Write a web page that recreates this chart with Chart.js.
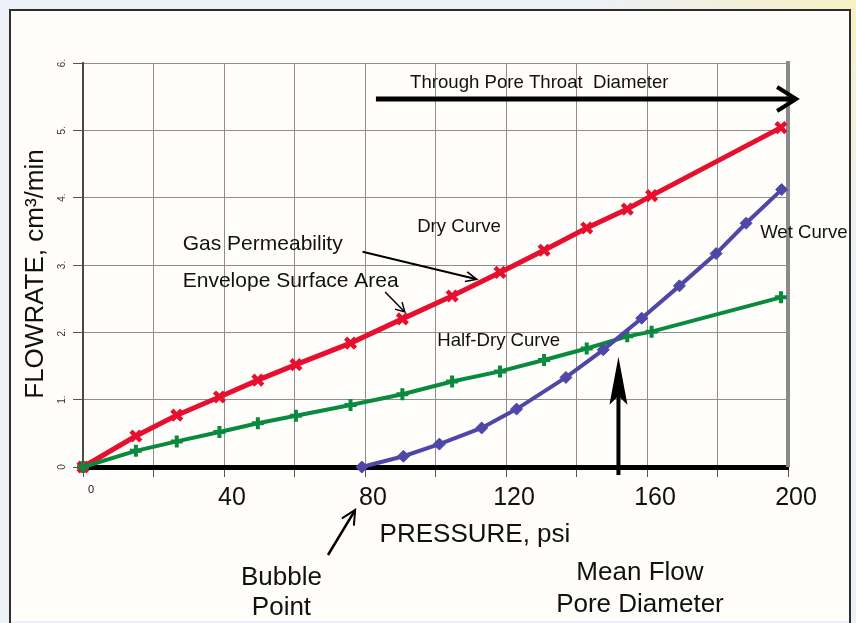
<!DOCTYPE html>
<html>
<head>
<meta charset="utf-8">
<script src="https://cdn.jsdelivr.net/npm/chart.js@4.4.1/dist/chart.umd.min.js"></script>
<style>
  html, body { margin: 0; padding: 0; background: #edf0f7; }
  #wrap { position: relative; width: 856px; height: 623px; }
</style>
</head>
<body>
<div id="wrap"><canvas id="chart"></canvas></div>
<script>
// data
const pressure = [0, 15, 26.6, 38.7, 49.6, 60.4, 75.9, 90.6, 104.7, 118.3, 130.8, 142.9, 154.4, 161.3, 198];
const dryFlow = [0, 0.46, 0.77, 1.04, 1.29, 1.52, 1.84, 2.20, 2.54, 2.89, 3.22, 3.55, 3.83, 4.03, 5.04];
const halfDryFlow = [0, 0.24, 0.38, 0.52, 0.65, 0.76, 0.92, 1.08, 1.27, 1.42, 1.59, 1.76, 1.94, 2.01, 2.52];
const wetPressure = [79.1, 90.9, 101.1, 113.1, 123.0, 137.0, 147.6, 158.5, 169.2, 179.6, 188.1, 198.2];
const wetFlow = [0, 0.16, 0.34, 0.58, 0.86, 1.33, 1.74, 2.21, 2.69, 3.17, 3.62, 4.12];

const xLabels = [0, 40, 80, 120, 160, 200];
const yLabels = ['0', '1.', '2.', '3.', '4.', '5.', '6.'];

const FONT = '"Liberation Sans", Arial, sans-serif';
Chart.defaults.font.family = FONT;
Chart.defaults.color = '#111';

const pts = (xs, ys) => xs.map((x, i) => ({ x: x, y: ys[i] }));

// text and arrows drawn on top, placed in data units
const notes = [
  ['Through Pore Throat  Diameter', 92.8, 5.63, 18.6, 'left'],
  ['Dry Curve', 94.8, 3.495, 18.6, 'left'],
  ['Wet Curve', 192.1, 3.397, 18.6, 'left'],
  ['Gas Permeability', 28.3, 3.223, 21, 'left'],
  ['Envelope Surface Area', 28.3, 2.678, 21, 'left'],
  ['Half-Dry Curve', 100.5, 1.802, 18.6, 'left'],
  ['Bubble', 56.3, -1.753, 26, 'center'],
  ['Point', 56.3, -2.198, 26, 'center'],
  ['Mean Flow', 158.0, -1.678, 26, 'center'],
  ['Pore Diameter', 158.0, -2.149, 26, 'center'],
  ['PRESSURE, psi', 111.2, -1.109, 26, 'center']
];
const arrows = [
  { from: [83.1, 5.466], to: [202.3, 5.466], w: 5, len: 19, half: 12, solid: false },
  { from: [79.3, 3.198], to: [111.7, 2.788], w: 2, len: 11, half: 5, solid: false },
  { from: [85.7, 2.599], to: [91.3, 2.302], w: 1.5, len: 9, half: 5, solid: false },
  { from: [69.5, -1.307], to: [77.2, -0.639], w: 2.5, len: 14, half: 7, solid: false },
  { from: [151.9, -0.119], to: [151.9, 1.638], w: 4, len: 48, half: 9, solid: true }
];

const backdrop = {
  id: 'backdrop',
  beforeDraw(chart) {
    const ctx = chart.ctx;
    ctx.save();
    ctx.fillStyle = '#edf0f7';
    ctx.fillRect(0, 0, chart.width, chart.height);
    const g = ctx.createRadialGradient(chart.width, 0, 10, chart.width, 0, 260);
    g.addColorStop(0, 'rgba(246,240,196,1)');
    g.addColorStop(1, 'rgba(246,240,196,0)');
    ctx.fillStyle = g;
    ctx.fillRect(0, 0, chart.width, chart.height);
    ctx.fillStyle = '#fffefa';
    ctx.fillRect(10, 10, 840, 611);
    ctx.strokeStyle = '#2e2e2e';
    ctx.lineWidth = 2;
    ctx.beginPath();
    ctx.moveTo(10, 623);
    ctx.lineTo(10, 10);
    ctx.lineTo(850, 10);
    ctx.lineTo(850, 623);
    ctx.stroke();
    ctx.restore();
  },
  beforeDatasetsDraw(chart) {
    // grey frame line on the right edge of the plot
    const { ctx, chartArea: a } = chart;
    ctx.save();
    ctx.strokeStyle = '#8a8a8a';
    ctx.lineWidth = 4;
    ctx.beginPath();
    ctx.moveTo(a.right, a.top - 2);
    ctx.lineTo(a.right, a.bottom);
    ctx.stroke();
    ctx.restore();
  }
};

const callouts = {
  id: 'callouts',
  afterDraw(chart) {
    const ctx = chart.ctx;
    const X = v => chart.scales.x.getPixelForValue(v);
    const Y = v => chart.scales.y.getPixelForValue(v);
    ctx.save();
    ctx.fillStyle = '#111';
    ctx.textBaseline = 'alphabetic';
    notes.forEach(([t, x, y, size, align]) => {
      ctx.font = size + 'px ' + FONT;
      ctx.textAlign = align;
      ctx.fillText(t, X(x), Y(y));
    });

    // y axis title
    ctx.save();
    ctx.translate(X(-11.35), Y(2.866));
    ctx.rotate(-Math.PI / 2);
    ctx.font = '26px ' + FONT;
    ctx.textAlign = 'center';
    ctx.fillText('FLOWRATE, cm³/min', 0, 0);
    ctx.restore();

    ctx.strokeStyle = '#000';
    ctx.fillStyle = '#000';
    ctx.lineCap = 'butt';
    arrows.forEach(a => {
      const x1 = X(a.from[0]), y1 = Y(a.from[1]);
      const x2 = X(a.to[0]), y2 = Y(a.to[1]);
      const ang = Math.atan2(y2 - y1, x2 - x1);
      const c = Math.cos(ang), s = Math.sin(ang);
      const bx = x2 - c * a.len, by = y2 - s * a.len;
      ctx.lineWidth = a.w;
      ctx.beginPath();
      ctx.moveTo(x1, y1);
      if (a.solid) {
        ctx.lineTo(x2 - c * a.len * 0.8, y2 - s * a.len * 0.8);
        ctx.stroke();
        ctx.beginPath();
        ctx.moveTo(x2, y2);
        ctx.lineTo(bx - s * a.half, by + c * a.half);
        ctx.lineTo(x2 - c * a.len * 0.82, y2 - s * a.len * 0.82);
        ctx.lineTo(bx + s * a.half, by - c * a.half);
        ctx.closePath();
        ctx.fill();
      } else {
        ctx.lineTo(x2 - c * a.w * 0.5, y2 - s * a.w * 0.5);
        ctx.stroke();
        ctx.lineWidth = Math.max(a.w * 0.8, 1.5);
        ctx.lineJoin = 'miter';
        ctx.beginPath();
        ctx.moveTo(bx - s * a.half, by + c * a.half);
        ctx.lineTo(x2, y2);
        ctx.lineTo(bx + s * a.half, by - c * a.half);
        ctx.stroke();
      }
    });
    ctx.restore();
  }
};

new Chart(document.querySelector('#chart').getContext('2d'), {
  type: 'scatter',
  data: {
    datasets: [
      {
        label: 'Wet Curve',
        data: pts(wetPressure, wetFlow),
        showLine: true,
        borderColor: '#4f47a8',
        backgroundColor: '#4f47a8',
        borderWidth: 4,
        pointStyle: 'rectRot',
        pointRadius: 6,
        pointBorderWidth: 1
      },
      {
        label: 'Half-Dry Curve',
        data: pts(pressure, halfDryFlow),
        showLine: true,
        borderColor: '#0a8a3e',
        backgroundColor: '#0a8a3e',
        borderWidth: 4,
        pointStyle: 'cross',
        pointRadius: 6,
        pointBorderWidth: 4
      },
      {
        label: 'Dry Curve',
        data: pts(pressure, dryFlow),
        showLine: true,
        borderColor: '#e6102e',
        backgroundColor: '#e6102e',
        borderWidth: 5,
        pointStyle: 'crossRot',
        pointRadius: 7,
        pointBorderWidth: 4.5
      }
    ]
  },
  options: {
    responsive: true,
    maintainAspectRatio: false,
    animation: false,
    clip: false,
    layout: { padding: { top: 63, right: 68, bottom: 0, left: 0 } },
    plugins: { legend: { display: false }, tooltip: { enabled: false } },
    scales: {
      x: {
        type: 'linear',
        min: 0,
        max: 200,
        afterFit: s => { s.height = 156; },
        grid: { color: '#8e8e8e', lineWidth: 1, tickLength: 10, tickColor: '#555' },
        border: { color: '#000', width: 5 },
        ticks: {
          stepSize: 20,
          autoSkip: false,
          maxRotation: 0,
          padding: 6,
          labelOffset: 8,
          color: '#111',
          font: c => ({ size: c.tick && c.tick.value === 0 ? 11 : 25 }),
          callback: v => xLabels.includes(v) ? String(v) : ''
        }
      },
      y: {
        min: 0,
        max: 6,
        afterFit: s => { s.width = 83; },
        grid: { color: '#8e8e8e', lineWidth: 1, tickLength: 10, tickColor: '#555' },
        border: { color: '#4a4a4a', width: 2 },
        ticks: {
          stepSize: 1,
          minRotation: 90,
          maxRotation: 90,
          crossAlign: 'center',
          padding: 7,
          color: '#333',
          font: { size: 10 },
          callback: v => yLabels[v] !== undefined ? yLabels[v] : ''
        }
      }
    }
  },
  plugins: [backdrop, callouts]
});
</script>
</body>
</html>
